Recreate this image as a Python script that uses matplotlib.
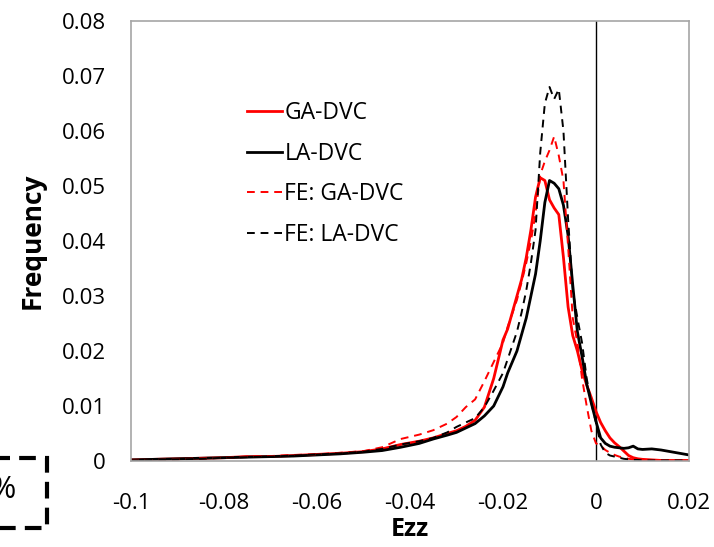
import matplotlib
matplotlib.use("Agg")
import matplotlib.pyplot as plt
from matplotlib.patches import Rectangle

plt.rcParams['font.family'] = ['Open Sans', 'DejaVu Sans']

# Ezz bins (finer near the peak)
ezz = [-0.1, -0.095, -0.09, -0.085, -0.08, -0.075, -0.07, -0.065, -0.06, -0.055, -0.05,
       -0.046, -0.042, -0.038, -0.035, -0.032, -0.03, -0.028, -0.026, -0.024, -0.022,
       -0.02, -0.019, -0.018, -0.017, -0.016, -0.015, -0.014, -0.013, -0.012, -0.011,
       -0.01, -0.009, -0.008, -0.007, -0.006, -0.005, -0.004, -0.003, -0.002, -0.001,
       0.0, 0.001, 0.002, 0.003, 0.004, 0.005, 0.006, 0.007, 0.008, 0.009,
       0.01, 0.012, 0.014, 0.016, 0.018, 0.02]

ga_dvc = [0.0002, 0.0003, 0.0004, 0.0005, 0.0006, 0.0008, 0.0008, 0.0010, 0.0012, 0.0014, 0.0017,
          0.0022, 0.0030, 0.0036, 0.0042, 0.0050, 0.0055, 0.0063, 0.0074, 0.0098, 0.0150,
          0.0220, 0.0240, 0.0270, 0.0300, 0.0330, 0.0370, 0.0420, 0.0480, 0.0515, 0.0510,
          0.0475, 0.0460, 0.0448, 0.0370, 0.0280, 0.0228, 0.0200, 0.0165, 0.0138, 0.0115,
          0.0090, 0.0070, 0.0055, 0.0042, 0.0033, 0.0026, 0.0018, 0.0010, 0.0006, 0.0004,
          0.0003, 0.0002, 0.0001, 0.0001, 0.0001, 0.0001]

la_dvc = [0.0002, 0.0003, 0.0004, 0.0005, 0.0006, 0.0007, 0.0008, 0.0009, 0.0011, 0.0013, 0.0016,
          0.0019, 0.0025, 0.0032, 0.0040, 0.0047, 0.0052, 0.0060, 0.0068, 0.0082, 0.0100,
          0.0135, 0.0160, 0.0180, 0.0200, 0.0230, 0.0260, 0.0300, 0.0340, 0.0400, 0.0470,
          0.0510, 0.0505, 0.0495, 0.0465, 0.0410, 0.0320, 0.0235, 0.0190, 0.0140, 0.0105,
          0.0072, 0.0042, 0.0032, 0.0027, 0.0025, 0.0024, 0.0023, 0.0024, 0.0027, 0.0022,
          0.0021, 0.0022, 0.0020, 0.0017, 0.0014, 0.0011]

fe_ga_dvc = [0.0001, 0.0002, 0.0003, 0.0005, 0.0006, 0.0008, 0.0009, 0.0011, 0.0012, 0.0015, 0.0018,
             0.0025, 0.0040, 0.0048, 0.0056, 0.0068, 0.0080, 0.0098, 0.0112, 0.0145, 0.0180,
             0.0215, 0.0244, 0.0268, 0.0293, 0.0325, 0.0360, 0.0400, 0.0450, 0.0520, 0.0545,
             0.0565, 0.0590, 0.0555, 0.0510, 0.0390, 0.0260, 0.0215, 0.0150, 0.0100, 0.0055,
             0.0032, 0.0028, 0.0020, 0.0015, 0.0011, 0.0008, 0.0006, 0.0004, 0.0003, 0.0002,
             0.0002, 0.0001, 0.0001, 0.0, 0.0, 0.0]

fe_la_dvc = [0.0001, 0.0002, 0.0003, 0.0004, 0.0006, 0.0007, 0.0008, 0.0010, 0.0012, 0.0014, 0.0017,
             0.0022, 0.0030, 0.0036, 0.0042, 0.0052, 0.0062, 0.0070, 0.0078, 0.0098, 0.0128,
             0.0160, 0.0185, 0.0210, 0.0235, 0.0270, 0.0310, 0.0360, 0.0420, 0.0560, 0.0650,
             0.0680, 0.0658, 0.0676, 0.0600, 0.0440, 0.0310, 0.0260, 0.0215, 0.0150, 0.0105,
             0.0070, 0.0030, 0.0015, 0.0010, 0.0008, 0.0006, 0.0004, 0.0003, 0.0002, 0.0002,
             0.0001, 0.0001, 0.0001, 0.0001, 0.0001, 0.0001]

x_ticks = [-0.1, -0.08, -0.06, -0.04, -0.02, 0, 0.02]
x_tick_labels = ['-0.1', '-0.08', '-0.06', '-0.04', '-0.02', '0', '0.02']
y_ticks = [0, 0.01, 0.02, 0.03, 0.04, 0.05, 0.06, 0.07, 0.08]
y_tick_labels = ['0', '0.01', '0.02', '0.03', '0.04', '0.05', '0.06', '0.07', '0.08']

fig = plt.figure(figsize=(7.14, 5.47), dpi=100)
ax = fig.add_axes([131 / 714, 86 / 547, 558 / 714, 440 / 547])

ax.axvline(0, color='black', lw=1)

ax.plot(ezz, ga_dvc, color='#ff0000', lw=2, label='GA-DVC')
ax.plot(ezz, la_dvc, color='black', lw=2, label='LA-DVC')
ax.plot(ezz, fe_ga_dvc, color='#ff0000', lw=1.4, dashes=(4, 3), label='FE: GA-DVC')
ax.plot(ezz, fe_la_dvc, color='black', lw=1.4, dashes=(4, 3), label='FE: LA-DVC')

ax.set_xlim(-0.1, 0.02)
ax.set_ylim(0, 0.08)
ax.set_xticks(x_ticks)
ax.set_xticklabels(x_tick_labels)
ax.set_yticks(y_ticks)
ax.set_yticklabels(y_tick_labels)
ax.tick_params(axis='both', length=0, labelsize=16)
ax.tick_params(axis='x', pad=23)
ax.tick_params(axis='y', pad=18)

for s in ax.spines.values():
    s.set_color('#a6a6a6')
    s.set_linewidth(1.2)

ax.set_xlabel('Ezz', fontsize=18, fontweight='bold', labelpad=2)
ax.set_ylabel('Frequency', fontsize=19, fontweight='bold', labelpad=12)

ax.legend(loc='upper left', bbox_to_anchor=(0.207, 0.818), frameon=False,
          fontsize=16.5, handlelength=1.55, handletextpad=0.1, labelspacing=0.72,
          borderpad=0, borderaxespad=0)

# partly cut-off dashed box from a neighbouring panel
fig.patches.append(Rectangle((-0.05, 19 / 547), 0.05 + 47 / 714, 70 / 547,
                             transform=fig.transFigure, fill=False,
                             edgecolor='black', lw=3, linestyle=(0, (4, 2.2))))
fig.text(-0.014, 0.105, '%', fontsize=22, ha='left', va='center')

fig.savefig('out.png', dpi=100)
